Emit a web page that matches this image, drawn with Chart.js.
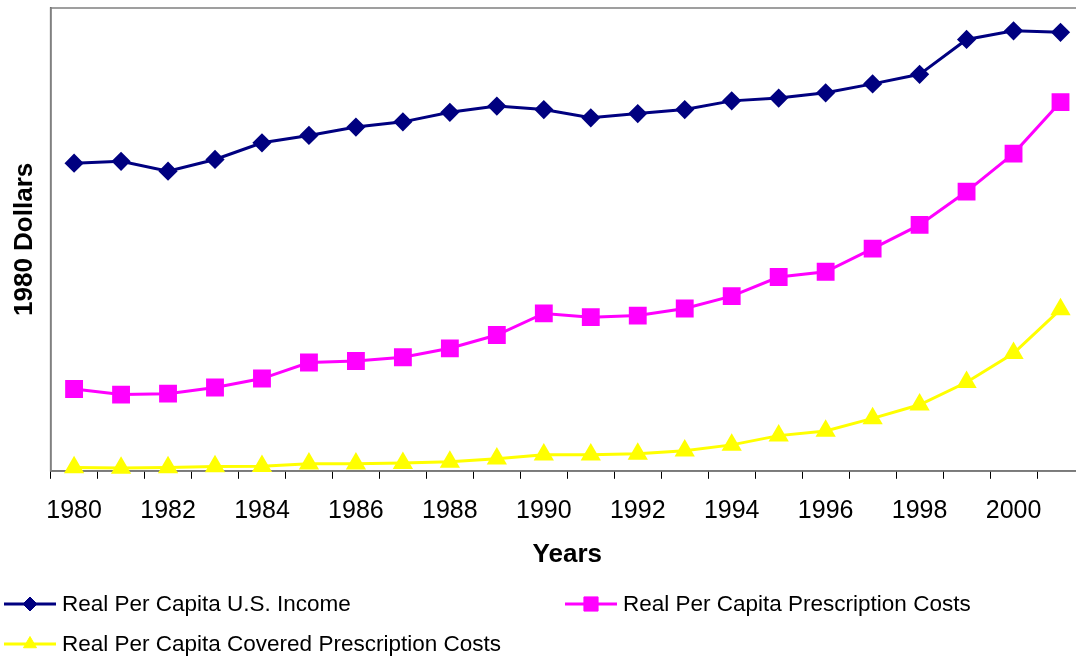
<!DOCTYPE html>
<html>
<head>
<meta charset="utf-8">
<script src="https://cdn.jsdelivr.net/npm/chart.js@4.4.1/dist/chart.umd.min.js"></script>
<style>
  html, body { margin: 0; padding: 0; background: #fff; overflow: hidden; }
  /* plot runs a little past the right edge of the window, as in the original */
  #wrap { position: relative; width: 1092px; height: 660px; }
</style>
</head>
<body>
<div id="wrap"><canvas id="chart"></canvas></div>
<script>
// Categories
const years = ['1980', '1981', '1982', '1983', '1984', '1985', '1986', '1987', '1988', '1989', '1990',
  '1991', '1992', '1993', '1994', '1995', '1996', '1997', '1998', '1999', '2000', '2001'];

// Only every other year gets a label
const tickYears = ['1980', '1982', '1984', '1986', '1988', '1990', '1992', '1994', '1996', '1998', '2000'];

// Series (1980 dollars)
const incomeValues = [9970, 10030, 9710, 10090, 10630, 10870, 11140, 11310, 11620, 11820, 11710,
  11440, 11580, 11710, 11990, 12080, 12250, 12540, 12850, 13980, 14260, 14210];
const rxCostValues = [2650, 2470, 2500, 2700, 2990, 3510, 3560, 3680, 3970, 4400, 5100,
  4980, 5030, 5260, 5660, 6280, 6450, 7200, 7970, 9050, 10280, 11950];
const coveredValues = [110, 90, 110, 140, 150, 230, 230, 250, 290, 390, 520,
  520, 550, 650, 840, 1140, 1290, 1700, 2140, 2870, 3810, 5230];

const FONT = "'Liberation Sans', Arial, Helvetica, sans-serif";

/**
 * Grey frame along the top of the plot area
 */
const framePlugin = {
  id: 'frame',
  beforeDatasetsDraw(chart) {
    const { ctx, chartArea } = chart;
    ctx.save();
    ctx.strokeStyle = '#808080';
    ctx.lineWidth = 1.5;
    ctx.strokeRect(chartArea.left, chartArea.top, chartArea.right - chartArea.left, chartArea.bottom - chartArea.top);
    ctx.restore();
  },
};

/**
 * Legend laid out like the Excel original: two columns, two rows, left aligned
 */
const legendSlots = [
  { x: 4, y: 604 },
  { x: 565, y: 604 },
  { x: 4, y: 644 },
];

const sheetLegend = {
  id: 'sheetLegend',
  afterDraw(chart) {
    const { ctx } = chart;
    chart.data.datasets.forEach((ds, i) => {
      const slot = legendSlots[i];
      ctx.save();
      ctx.strokeStyle = ds.borderColor;
      ctx.lineWidth = 3;
      ctx.beginPath();
      ctx.moveTo(slot.x, slot.y);
      ctx.lineTo(slot.x + 52, slot.y);
      ctx.stroke();

      ctx.fillStyle = ds.backgroundColor;
      ctx.strokeStyle = ds.borderColor;
      ctx.lineWidth = 1;
      Chart.helpers.drawPoint(ctx, {
        pointStyle: ds.pointStyle,
        radius: ds.legendRadius,
        rotation: 0,
        borderWidth: 1,
      }, slot.x + 26, slot.y);

      ctx.fillStyle = '#000';
      ctx.font = `22.5px ${FONT}`;
      ctx.textBaseline = 'middle';
      ctx.textAlign = 'left';
      ctx.fillText(ds.label, slot.x + 58, slot.y + 1);
      ctx.restore();
    });
  },
};

const chart = new Chart(document.getElementById('chart'), {
  type: 'line',
  data: {
    labels: years,
    datasets: [
      {
        label: 'Real Per Capita U.S. Income',
        data: incomeValues,
        borderColor: '#000080',
        backgroundColor: '#000080',
        borderWidth: 3,
        pointStyle: 'rectRot',
        pointRadius: 7.5,
        legendRadius: 7,
        tension: 0,
        clip: false,
      },
      {
        label: 'Real Per Capita Prescription Costs',
        data: rxCostValues,
        borderColor: '#FF00FF',
        backgroundColor: '#FF00FF',
        borderWidth: 3,
        pointStyle: 'rect',
        pointRadius: 10.5,
        legendRadius: 10,
        tension: 0,
        clip: false,
      },
      {
        label: 'Real Per Capita Covered Prescription Costs',
        data: coveredValues,
        borderColor: '#FFFF00',
        backgroundColor: '#FFFF00',
        borderWidth: 3,
        pointStyle: 'triangle',
        pointRadius: 8.7,
        legendRadius: 7.5,
        tension: 0,
        clip: false,
      },
    ],
  },
  options: {
    responsive: true,
    maintainAspectRatio: false,
    animation: false,
    layout: {
      autoPadding: false,
      padding: { left: 4, right: 8, top: 8, bottom: 90 },
    },
    plugins: {
      legend: { display: false },
      tooltip: { enabled: false },
    },
    scales: {
      x: {
        type: 'category',
        offset: true,
        grid: {
          offset: true,
          drawOnChartArea: false,
          drawTicks: true,
          tickLength: 8,
          color: '#000',
          lineWidth: 1,
        },
        border: { display: true, color: '#000', width: 1.5 },
        ticks: {
          autoSkip: false,
          maxRotation: 0,
          padding: 17,
          color: '#000',
          font: { family: FONT, size: 25 },
          callback: function (value) {
            const label = this.getLabelForValue(value);
            return tickYears.includes(label) ? label : '';
          },
        },
        title: {
          display: true,
          text: 'Years',
          color: '#000',
          font: { family: FONT, size: 26, weight: 'bold' },
          padding: { top: -4, bottom: 0 },
        },
      },
      y: {
        min: 0,
        max: 15000,
        grid: { display: false, drawTicks: false },
        border: { display: true, color: '#404040', width: 1.5 },
        ticks: { display: false },
        title: {
          display: true,
          text: '1980 Dollars',
          color: '#000',
          font: { family: FONT, size: 26, weight: 'bold' },
          padding: { top: 5, bottom: 10.4 },
        },
      },
    },
  },
  plugins: [framePlugin, sheetLegend],
});
</script>
</body>
</html>
